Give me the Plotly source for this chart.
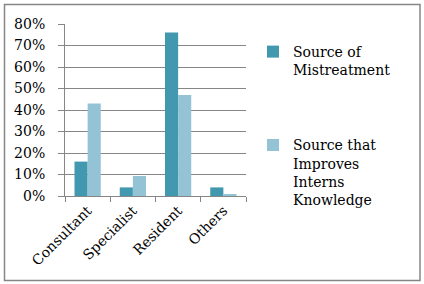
import plotly.graph_objects as go

categories = ["Consultant", "Specialist", "Resident", "Others"]
mistreatment = [0.16, 0.04, 0.76, 0.04]
improves = [0.43, 0.093, 0.47, 0.008]
series_names = ["Source of<br>Mistreatment", "Source that<br>Improves<br>Interns<br>Knowledge"]
y_ticks = [0, 0.1, 0.2, 0.3, 0.4, 0.5, 0.6, 0.7, 0.8]

FONT = "DejaVu Serif"
W, H = 424, 284
L, R, T, B = 65, 246, 24, 196

def px(x):
    return (x - L) / (R - L)

def py(y):
    return (B - y) / (B - T)

fig = go.Figure()
fig.add_trace(go.Bar(x=categories, y=mistreatment, name=series_names[0],
                     marker=dict(color="#4198AF", line=dict(width=0)), legendgroup="a"))
fig.add_trace(go.Bar(x=categories, y=improves, name=series_names[1],
                     marker=dict(color="#93C3D5", line=dict(width=0)), legendgroup="b"))

fig.update_layout(
    width=W, height=H,
    margin=dict(l=L, r=W - R, t=T, b=H - B, autoexpand=False),
    paper_bgcolor="white", plot_bgcolor="white",
    barmode="group", bargap=0.42, bargroupgap=0,
    font=dict(family=FONT, size=14, color="black"),
    legend=dict(x=px(253), y=py(36), xanchor="left", yanchor="top",
                traceorder="grouped", tracegroupgap=54, valign="top",
                maxheight=300,
                font=dict(family=FONT, size=14, color="black"),
                bgcolor="rgba(0,0,0,0)", itemwidth=30),
    xaxis=dict(showgrid=False, showline=True, linecolor="#868686", linewidth=1,
               ticks="outside", tickson="boundaries", ticklen=5, tickcolor="#868686",
               tickangle=-45, tickfont=dict(family=FONT, size=14, color="black")),
    yaxis=dict(range=[0, 0.8], tickvals=y_ticks, tickformat=".0%",
               showgrid=True, gridcolor="#868686", gridwidth=1,
               showline=True, linecolor="#868686", linewidth=1,
               ticks="outside", ticklen=6, tickcolor="#868686",
               ticklabelstandoff=10,
               tickfont=dict(family=FONT, size=14, color="black"), zeroline=False),
    shapes=[dict(type="rect", xref="paper", yref="paper",
                 x0=px(4.5), x1=px(420), y0=py(280.5), y1=py(4.5),
                 line=dict(color="#868686", width=1.5), layer="below")],
)

fig.write_html("out.html", config={"displayModeBar": False})

with open("out.html", "r", encoding="utf-8") as f:
    html = f.read()
html = html.replace("<body>", '<body style="margin:0;padding:0;overflow:hidden;">', 1)
with open("out.html", "w", encoding="utf-8") as f:
    f.write(html)
